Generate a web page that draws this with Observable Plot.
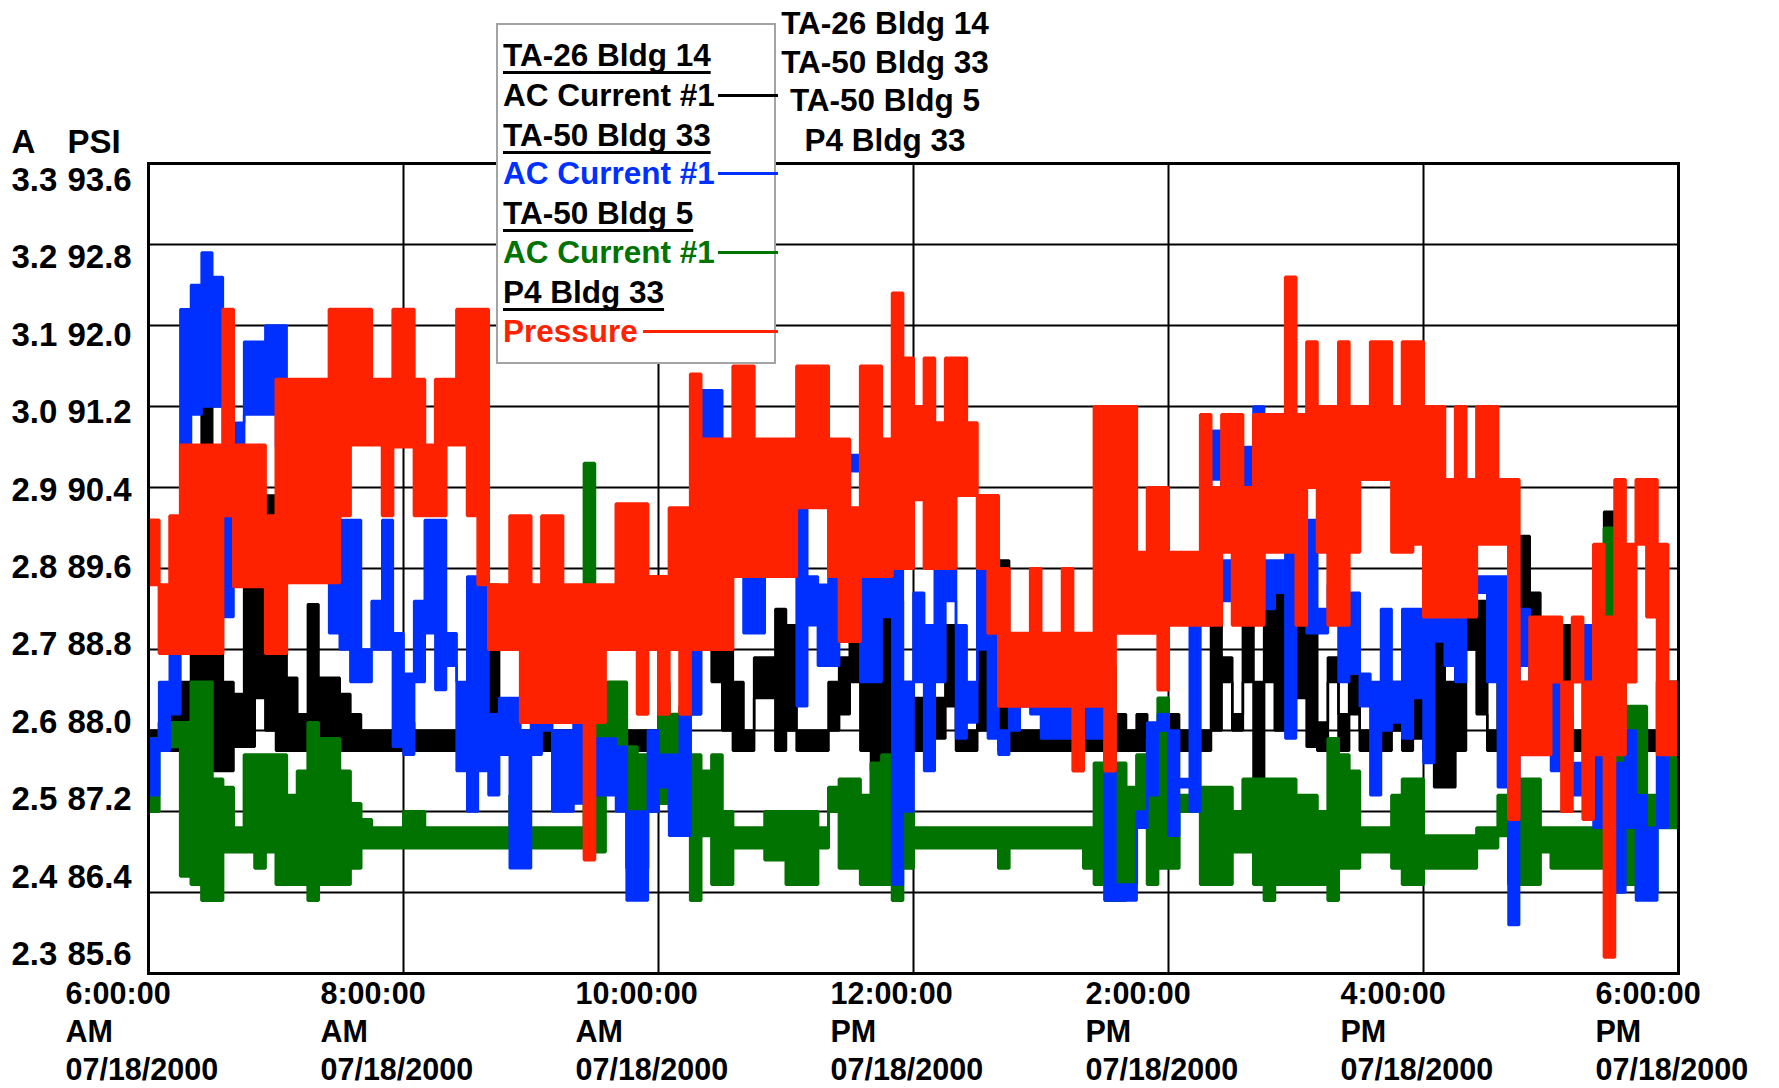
<!DOCTYPE html>
<html>
<head>
<meta charset="utf-8">
<script src="https://cdn.jsdelivr.net/npm/d3@7"></script>
<script src="https://cdn.jsdelivr.net/npm/@observablehq/plot@0.6"></script>
<style>
  html, body { margin: 0; padding: 0; background: #fff; }
  #wrap { position: relative; width: 1779px; height: 1088px; overflow: hidden; background: #fff;
          font-family: "Liberation Sans", Arial, sans-serif; font-weight: bold; }
  #wrap svg { display: block; }
  .box { position: absolute; left: 496px; top: 23px; width: 276px; height: 337px;
         border: 2px solid #a4a4a4; background: #fff; }
  .row { position: absolute; height: 36px; line-height: 36px; font-size: 31.5px; white-space: nowrap; }
  .ul { text-decoration: underline; text-decoration-thickness: 3px; text-underline-offset: 5px;
        text-decoration-skip-ink: none; }
  .sw { position: absolute; height: 3px; }
  .rt { position: absolute; left: 775px; width: 220px; text-align: center; height: 36px;
        line-height: 36px; font-size: 31.5px; white-space: nowrap; }
</style>
</head>
<body>
<div id="wrap"></div>
<script>
// ---------------- data ----------------
// 12 hours, 6:00 AM to 6:00 PM, 07/18/2000, read in 5-minute bins (144 bins).
// For every bin the lowest and highest value the trace reaches.
const binMinutes = 5;

// TA-26 Bldg 14, AC Current #1 (A)
const blackLo = [
  2.575,2.575,2.575,2.60,2.60,2.62,2.55,2.55,2.58,2.58,2.64,2.60,
  2.575,2.575,2.575,2.575,2.575,2.575,2.575,2.575,2.575,2.575,2.575,2.575,
  2.575,2.575,2.575,2.575,2.575,2.575,2.575,2.575,2.575,2.575,2.575,2.575,
  2.575,2.575,2.575,2.575,2.575,2.575,2.575,2.575,2.575,2.575,2.575,2.575,
  2.575,2.575,2.575,2.62,2.70,2.66,2.60,2.575,2.575,2.64,2.64,2.575,
  2.60,2.575,2.575,2.575,2.60,2.62,2.66,2.575,2.55,2.56,2.56,2.575,
  2.575,2.575,2.59,2.63,2.575,2.575,2.60,2.60,2.575,2.575,2.575,2.575,
  2.575,2.575,2.575,2.575,2.575,2.575,2.575,2.575,2.575,2.575,2.575,2.575,
  2.575,2.575,2.575,2.575,2.60,2.66,2.60,2.66,2.53,2.66,2.60,2.60,
  2.64,2.58,2.575,2.66,2.575,2.62,2.575,2.575,2.575,2.60,2.575,2.59,
  2.575,2.53,2.53,2.575,2.70,2.62,2.575,2.66,2.66,2.75,2.66,2.575,
  2.575,2.575,2.575,2.575,2.575,2.575,2.575,2.575,2.575,2.575,2.575,2.575
];
const blackHi = [
  2.60,2.60,2.62,2.66,2.80,3.00,2.76,2.66,2.645,2.78,2.78,2.89,
  2.76,2.665,2.62,2.756,2.665,2.665,2.645,2.62,2.60,2.60,2.60,2.60,
  2.61,2.60,2.60,2.60,2.60,2.60,2.60,2.60,2.78,2.60,2.60,2.60,
  2.60,2.60,2.60,2.60,2.60,2.60,2.60,2.60,2.60,2.60,2.60,2.60,
  2.66,2.62,2.63,2.75,2.91,2.79,2.70,2.66,2.60,2.69,2.69,2.75,
  2.73,2.60,2.60,2.60,2.66,2.69,2.71,2.70,2.77,2.76,2.76,2.66,
  2.64,2.60,2.64,2.73,2.60,2.60,2.70,2.73,2.81,2.60,2.60,2.60,
  2.60,2.60,2.60,2.60,2.60,2.60,2.60,2.62,2.60,2.62,2.60,2.60,
  2.62,2.60,2.60,2.60,2.79,2.69,2.62,2.77,2.66,2.78,2.78,2.66,
  2.81,2.75,2.61,2.69,2.62,2.67,2.60,2.60,2.60,2.66,2.67,2.64,
  2.74,2.74,2.66,2.74,2.77,2.76,2.60,2.67,2.84,2.84,2.77,2.66,
  2.60,2.73,2.60,2.60,2.77,2.87,2.60,2.60,2.60,2.60,2.60,2.60
];

// TA-50 Bldg 33, AC Current #1 (A)
const blueLo = [
  2.52,2.575,2.62,2.70,2.99,3.00,3.00,2.74,2.83,2.99,2.99,2.99,
  2.95,2.83,2.83,2.82,2.80,2.72,2.70,2.66,2.66,2.70,2.70,2.58,
  2.57,2.66,2.72,2.65,2.68,2.55,2.50,2.55,2.52,2.57,2.43,2.43,
  2.57,2.60,2.50,2.50,2.51,2.52,2.52,2.52,2.50,2.39,2.39,2.50,
  2.53,2.47,2.47,2.62,2.92,2.92,2.81,2.81,2.72,2.72,2.83,2.79,
  2.88,2.63,2.73,2.68,2.68,2.88,2.92,2.66,2.66,2.74,2.41,2.50,
  2.66,2.55,2.66,2.76,2.59,2.61,2.70,2.59,2.57,2.60,2.63,2.62,
  2.59,2.59,2.59,2.63,2.59,2.59,2.39,2.39,2.39,2.48,2.52,2.60,
  2.47,2.53,2.50,2.73,2.91,2.76,2.75,2.90,2.81,2.75,2.77,2.59,
  2.75,2.72,2.72,2.74,2.66,2.67,2.63,2.52,2.60,2.61,2.59,2.64,
  2.56,2.71,2.68,2.66,2.77,2.77,2.66,2.53,2.36,2.68,2.62,2.60,
  2.55,2.55,2.52,2.55,2.48,2.48,2.40,2.48,2.39,2.39,2.48,2.60
];
const blueHi = [
  2.59,2.66,2.70,3.12,3.15,3.19,3.16,3.00,2.98,3.08,3.08,3.10,
  3.10,2.95,2.86,2.86,2.83,2.86,2.86,2.86,2.70,2.76,2.86,2.72,
  2.67,2.76,2.86,2.86,2.72,2.66,2.79,2.79,2.62,2.64,2.64,2.60,
  2.72,2.72,2.60,2.60,2.65,2.60,2.59,2.59,2.58,2.50,2.50,2.60,
  2.57,2.57,2.62,2.92,3.02,3.02,2.92,2.87,2.82,2.90,2.89,2.92,
  2.92,2.88,2.79,2.78,2.91,2.94,2.94,2.92,2.80,2.80,2.88,2.66,
  2.77,2.73,2.81,2.81,2.73,2.66,2.81,2.81,2.60,2.63,2.70,2.64,
  2.63,2.63,2.63,2.72,2.63,2.63,2.59,2.41,2.41,2.50,2.61,2.62,
  2.60,2.54,2.73,2.81,2.97,2.81,2.88,2.95,3.00,2.81,2.81,2.95,
  2.81,2.86,2.75,2.78,2.77,2.77,2.67,2.66,2.75,2.66,2.75,2.75,
  2.77,2.86,2.74,2.78,2.87,2.79,2.79,2.79,2.49,2.75,2.70,2.66,
  2.66,2.62,2.56,2.73,2.60,2.56,2.56,2.60,2.52,2.48,2.66,2.66
];

// TA-50 Bldg 5, AC Current #1 (A)
const greenLo = [
  2.50,2.59,2.58,2.42,2.41,2.39,2.39,2.45,2.45,2.45,2.43,2.45,
  2.41,2.41,2.41,2.39,2.41,2.41,2.41,2.43,2.455,2.455,2.455,2.455,
  2.455,2.455,2.455,2.455,2.455,2.455,2.455,2.455,2.455,2.455,2.455,2.455,
  2.455,2.455,2.455,2.455,2.455,2.455,2.45,2.55,2.54,2.43,2.43,2.50,
  2.51,2.50,2.50,2.39,2.47,2.41,2.41,2.455,2.455,2.455,2.44,2.44,
  2.41,2.41,2.41,2.455,2.50,2.43,2.43,2.41,2.41,2.41,2.39,2.43,
  2.455,2.455,2.455,2.455,2.455,2.455,2.455,2.455,2.43,2.455,2.455,2.455,
  2.455,2.455,2.455,2.455,2.43,2.41,2.39,2.39,2.41,2.50,2.41,2.43,
  2.43,2.50,2.50,2.41,2.41,2.41,2.45,2.45,2.41,2.39,2.41,2.41,
  2.41,2.41,2.41,2.39,2.43,2.43,2.45,2.45,2.45,2.43,2.41,2.41,
  2.43,2.43,2.43,2.43,2.43,2.455,2.455,2.47,2.41,2.41,2.41,2.45,
  2.43,2.43,2.43,2.43,2.43,2.43,2.41,2.41,2.40,2.40,2.48,2.48
];
const greenHi = [
  2.59,2.61,2.61,2.61,2.66,2.66,2.54,2.53,2.48,2.57,2.57,2.57,
  2.57,2.52,2.55,2.61,2.59,2.59,2.55,2.51,2.49,2.48,2.48,2.48,
  2.50,2.50,2.48,2.48,2.48,2.48,2.48,2.48,2.48,2.48,2.52,2.48,
  2.48,2.48,2.48,2.48,2.48,2.93,2.66,2.66,2.66,2.58,2.57,2.57,
  2.65,2.62,2.61,2.57,2.55,2.57,2.50,2.48,2.48,2.48,2.50,2.50,
  2.50,2.50,2.50,2.48,2.53,2.54,2.54,2.52,2.56,2.57,2.57,2.50,
  2.48,2.48,2.48,2.48,2.48,2.48,2.48,2.48,2.48,2.48,2.48,2.48,
  2.48,2.48,2.48,2.48,2.48,2.56,2.68,2.56,2.53,2.57,2.59,2.64,
  2.52,2.52,2.52,2.53,2.53,2.53,2.50,2.54,2.54,2.54,2.54,2.54,
  2.52,2.52,2.50,2.59,2.57,2.55,2.48,2.48,2.48,2.52,2.54,2.54,
  2.47,2.47,2.47,2.47,2.47,2.48,2.48,2.52,2.48,2.54,2.54,2.48,
  2.48,2.48,2.48,2.48,2.48,2.85,2.66,2.63,2.63,2.52,2.66,2.66
];

// P4 Bldg 33, Pressure (PSI)
const pressureLo = [
  89.44,88.76,88.76,88.76,88.76,88.76,88.76,90.12,89.42,89.42,89.42,88.76,
  88.76,89.46,89.46,89.46,89.46,89.46,90.12,90.82,90.82,90.82,90.12,90.80,
  90.80,90.12,90.12,90.12,90.82,90.82,90.12,89.44,88.80,88.80,88.80,88.08,
  88.08,88.08,88.08,88.08,88.08,86.72,88.08,88.80,88.80,88.80,88.16,88.80,
  88.16,88.80,88.16,88.80,88.80,88.80,88.80,89.52,89.52,89.52,89.52,89.52,
  89.52,90.20,90.20,90.20,89.52,88.88,88.88,89.52,89.52,89.52,89.60,89.60,
  90.28,89.60,89.60,89.60,90.32,90.32,89.60,88.96,88.24,88.24,88.24,88.24,
  88.24,88.24,88.24,87.60,88.24,88.24,87.60,88.96,88.96,88.96,88.96,88.40,
  89.04,89.04,89.04,89.04,89.04,89.76,89.04,89.04,89.04,89.76,89.76,89.76,
  89.04,90.40,89.76,89.04,89.04,89.76,90.48,90.48,90.48,89.76,89.76,89.84,
  89.12,89.12,89.12,89.12,89.12,89.84,89.84,89.84,87.12,87.76,87.76,87.76,
  88.48,87.20,88.48,87.12,87.76,85.76,87.76,88.48,89.84,89.12,87.76,87.76
];
const pressureHi = [
  90.08,89.44,90.12,90.82,90.82,90.82,90.82,92.16,90.82,90.82,90.82,90.12,
  91.47,91.47,91.47,91.47,91.47,92.16,92.16,92.16,92.16,91.47,91.47,92.16,
  92.16,91.47,90.82,91.47,91.47,92.16,92.16,92.16,89.44,89.44,90.12,90.12,
  89.44,90.12,90.12,89.44,89.44,89.44,89.44,89.44,90.24,90.24,90.24,89.52,
  89.52,90.20,90.20,91.52,90.88,90.88,90.88,91.60,91.60,90.88,90.88,90.88,
  90.88,91.60,91.60,91.60,90.88,90.88,90.20,91.60,91.60,90.88,92.32,91.68,
  91.20,91.68,91.04,91.68,91.68,91.04,90.32,90.32,89.60,88.96,88.96,89.60,
  88.96,88.96,89.60,88.96,88.96,91.20,91.20,91.20,91.20,89.76,90.40,90.40,
  89.76,89.76,89.76,91.12,90.40,91.12,91.12,90.40,91.12,91.12,91.12,92.48,
  91.12,91.84,91.20,91.20,91.84,91.20,91.20,91.84,91.84,91.20,91.84,91.84,
  91.20,91.20,90.48,91.20,90.48,91.20,91.20,90.48,90.48,88.48,89.12,89.12,
  89.12,88.48,89.12,88.48,89.84,89.12,90.48,89.84,90.48,90.48,89.84,88.48
];

// axis labels
const ampLabels = ["3.3","3.2","3.1","3.0","2.9","2.8","2.7","2.6","2.5","2.4","2.3"];
const psiLabels = ["93.6","92.8","92.0","91.2","90.4","89.6","88.8","88.0","87.2","86.4","85.6"];
const xTickHours = [6, 8, 10, 12, 14, 16, 18];
const xTickClock = ["6:00:00","8:00:00","10:00:00","12:00:00","2:00:00","4:00:00","6:00:00"];
const xTickPeriod = ["AM","AM","AM","PM","PM","PM","PM"];
const xTickDate = ["07/18/2000","07/18/2000","07/18/2000","07/18/2000","07/18/2000","07/18/2000","07/18/2000"];

// legend
const legendRows = [
  {text: "TA-26 Bldg 14", color: "#000", title: true},
  {text: "AC Current #1", color: "#000", title: false},
  {text: "TA-50 Bldg 33", color: "#000", title: true},
  {text: "AC Current #1", color: "#0030ff", title: false},
  {text: "TA-50 Bldg 5", color: "#000", title: true},
  {text: "AC Current #1", color: "#007300", title: false},
  {text: "P4 Bldg 33", color: "#000", title: true},
  {text: "Pressure", color: "#ff2200", title: false}
];
const sideLabels = ["TA-26 Bldg 14", "TA-50 Bldg 33", "TA-50 Bldg 5", "P4 Bldg 33"];

// ---------------- chart ----------------
const T0 = Date.UTC(2000, 6, 18, 6, 0, 0);
const MIN = 60000;
const psiToAmp = p => 2.3 + (p - 85.6) / 8;   // 85.6 PSI <-> 2.3 A, 0.8 PSI per 0.1 A

// one row per 5-minute bin (plus the closing edge at 6:00 PM)
function bins(lo, hi, f = v => v) {
  const rows = lo.map((v, k) => ({t: new Date(T0 + k * binMinutes * MIN), lo: f(v), hi: f(hi[k])}));
  const last = rows[rows.length - 1];
  rows.push({t: new Date(T0 + lo.length * binMinutes * MIN), lo: last.lo, hi: last.hi});
  return rows;
}
function trace(data, color, w) {
  const o = {x: "t", curve: "step-after"};
  return [
    Plot.areaY(data, {...o, y1: "lo", y2: "hi", fill: color}),
    Plot.line(data, {...o, y: "lo", stroke: color, strokeWidth: w, strokeLinejoin: "miter"}),
    Plot.line(data, {...o, y: "hi", stroke: color, strokeWidth: w, strokeLinejoin: "miter"})
  ];
}

const hourDate = h => new Date(Date.UTC(2000, 6, 18, h, 0, 0));
const gridAmps = ampLabels.map(Number).filter(v => v > 2.3 && v < 3.3);
const gridHours = xTickHours.filter(h => h > 6 && h < 18).map(hourDate);
// the label column of the original is spaced a little tighter than its gridlines
const labelPos = d3.scaleLinear([0, ampLabels.length - 1], [3.279, 2.3235]);

const labelFont = {fontSize: 33, fontWeight: "bold", fill: "#000"};

const chart = Plot.plot({
  width: 1779,
  height: 1088,
  marginLeft: 148,
  marginRight: 101,
  marginTop: 163,
  marginBottom: 115,
  style: {background: "#fff", fontFamily: "'Liberation Sans', Arial, sans-serif", overflow: "visible"},
  x: {type: "utc", domain: [hourDate(6), hourDate(18)], axis: null},
  y: {domain: [2.3, 3.3], axis: null},
  marks: [
    Plot.ruleY(gridAmps, {stroke: "#000", strokeWidth: 2}),
    Plot.ruleX(gridHours, {stroke: "#000", strokeWidth: 2}),
    ...trace(bins(blackLo, blackHi), "#000", 2.5),
    ...trace(bins(greenLo, greenHi), "#007300", 3),
    ...trace(bins(blueLo, blueHi), "#0030ff", 2.5),
    ...trace(bins(pressureLo, pressureHi, psiToAmp), "#ff2200", 3),
    Plot.frame({stroke: "#000", strokeWidth: 3}),
    Plot.text(ampLabels, {y: (d, i) => labelPos(i), text: d => d, frameAnchor: "left", dx: -137,
      textAnchor: "start", lineAnchor: "middle", ...labelFont}),
    Plot.text(psiLabels, {y: (d, i) => labelPos(i), text: d => d, frameAnchor: "left", dx: -81,
      textAnchor: "start", lineAnchor: "middle", ...labelFont}),
    Plot.text(["A"], {frameAnchor: "top-left", dx: -137, dy: -21, textAnchor: "start",
      lineAnchor: "middle", ...labelFont}),
    Plot.text(["PSI"], {frameAnchor: "top-left", dx: -81, dy: -21, textAnchor: "start",
      lineAnchor: "middle", ...labelFont}),
    Plot.text(xTickHours, {x: h => hourDate(h),
      text: (h, i) => `${xTickClock[i]}\n${xTickPeriod[i]}\n${xTickDate[i]}`,
      frameAnchor: "bottom", lineAnchor: "top", dy: 4, dx: -83, textAnchor: "start",
      lineHeight: 1.24, fontSize: 30.5, fontWeight: "bold", fill: "#000"})
  ]
});

const wrap = document.getElementById("wrap");
wrap.appendChild(chart);

// legend box (overlaps the top of the plot, as in the original)
const box = document.createElement("div");
box.className = "box";
wrap.appendChild(box);
const rowCenters = [55, 95, 135, 173, 213, 252, 292, 331];
legendRows.forEach((r, i) => {
  const el = document.createElement("div");
  el.className = "row";
  el.style.left = "503px";
  el.style.top = (rowCenters[i] - 18) + "px";
  el.style.color = r.color;
  const span = document.createElement("span");
  if (r.title) span.className = "ul";
  span.textContent = r.text;
  el.appendChild(span);
  wrap.appendChild(el);
  if (!r.title) {
    const sw = document.createElement("div");
    sw.className = "sw";
    sw.style.background = r.color;
    sw.style.top = (rowCenters[i] - 1) + "px";
    const left = r.text === "Pressure" ? 643 : 718;
    sw.style.left = left + "px";
    sw.style.width = (778 - left) + "px";
    wrap.appendChild(sw);
  }
});
const sideCenters = [23, 62, 100, 140];
sideLabels.forEach((t, i) => {
  const el = document.createElement("div");
  el.className = "rt";
  el.style.top = (sideCenters[i] - 18) + "px";
  el.textContent = t;
  wrap.appendChild(el);
});
</script>
</body>
</html>
